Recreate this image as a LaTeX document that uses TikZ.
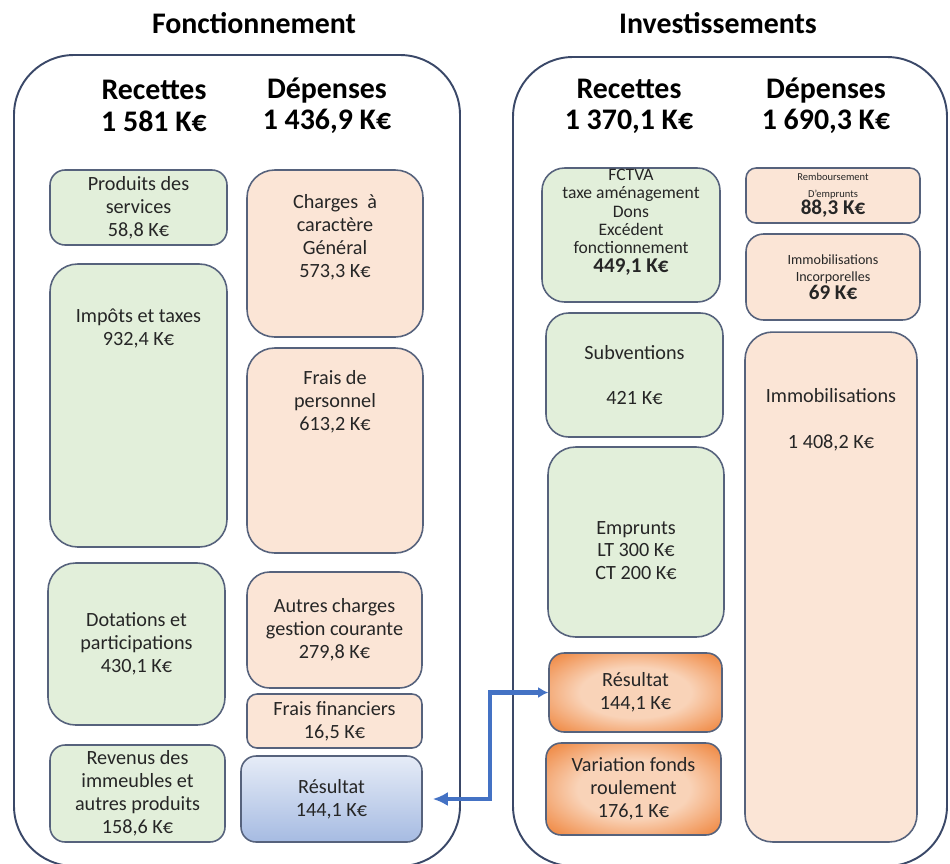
\documentclass[tikz,border=0pt]{standalone}
\usepackage{fontspec}
\setmainfont{Carlito}
\usetikzlibrary{arrows.meta}

\definecolor{vertRec}{HTML}{E2EFDA}
\definecolor{pecheDep}{HTML}{FBE5D6}
\definecolor{bordBoite}{HTML}{56627C}
\definecolor{bordCadre}{HTML}{3A4868}
\definecolor{bleuLien}{HTML}{4472C4}
\definecolor{bleuHaut}{HTML}{E6ECF7}
\definecolor{bleuBas}{HTML}{A6BBE2}
\definecolor{orangeCentre}{HTML}{F9D3B8}
\definecolor{orangeBord}{HTML}{F08C48}
\definecolor{texte}{HTML}{262626}

\pgfdeclareradialshading{orangeRes}{\pgfpoint{0bp}{0bp}}{color(0bp)=(orangeCentre); color(16bp)=(orangeCentre); color(33bp)=(orangeBord); color(50bp)=(orangeBord)}

\begin{document}
\begin{tikzpicture}[x=0.02cm, y=-0.02cm,
  cadre/.style={draw=bordCadre, line width=1.1pt, rounded corners=1.2cm},
  boite/.style={draw=bordBoite, line width=0.9pt, rounded corners=0.3cm, inner sep=0pt,
    align=center, text=texte, font=\fontsize{11.5}{13}\selectfont},
  recette/.style={boite, fill=vertRec},
  depense/.style={boite, fill=pecheDep},
  resbleu/.style={boite, top color=bleuHaut, bottom color=bleuBas},
  resorange/.style={boite, shading=orangeRes},
  txt/.style={align=center, text=texte, font=\fontsize{11.5}{13}\selectfont},
  titre/.style={align=center, text=black, font=\fontsize{17}{17.8}\selectfont\bfseries},
  lien/.style={draw=bleuLien, line width=2.3pt,
    {Latex[length=0.2cm,width=0.22cm]}-{Latex[length=0.3cm,width=0.28cm]}}
]
\useasboundingbox (0,0) rectangle (950,863);

% les deux cadres
\draw[cadre] (14,55) rectangle (460,866);
\draw[cadre] (513,57) rectangle (947,866);

\node[titre, anchor=base] (titreFonct) at (254,33) {Fonctionnement};
\node[titre, anchor=base] (titreInvest) at (718,33) {Investissements};

\node[titre] (recFonct) at (154,106) {Recettes\\1 581 K€};
\node[titre] (depFonct) at (327,106) {Dépenses\\1 436,9 K€};
\node[titre] (recInvest) at (629,106) {Recettes\\1 370,1 K€};
\node[titre] (depInvest) at (826,106) {Dépenses\\1 690,3 K€};

% Fonctionnement - recettes
\node[recette, minimum width=3.54cm, minimum height=1.5cm] (produits) at (138.5,207.5) {Produits des\\services\\58,8 K€};
\node[recette, minimum width=3.54cm, minimum height=5.66cm, rounded corners=0.55cm] (impots) at (138.5,405.5) {};
\node[txt] (impotsTxt) at (138.5,328.5) {Impôts et taxes\\932,4 K€};
\node[recette, minimum width=3.54cm, minimum height=3.24cm, rounded corners=0.55cm] (dotations) at (136.5,644) {Dotations et\\participations\\430,1 K€};
\node[recette, minimum width=3.5cm, minimum height=1.94cm] (revenus) at (137.5,793.5) {Revenus des\\immeubles et\\autres produits\\158,6 K€};

% Fonctionnement - dépenses
\node[depense, minimum width=3.52cm, minimum height=3.34cm, rounded corners=0.55cm] (charges) at (335,253.5) {};
\node[txt] (chargesTxt) at (335,237.5) {Charges \ à\\caractère\\Général\\573,3 K€};
\node[depense, minimum width=3.52cm, minimum height=4.1cm, rounded corners=0.55cm] (personnel) at (335,450.5) {};
\node[txt] (personnelTxt) at (335,401.5) {Frais de\\personnel\\613,2 K€};
\node[depense, minimum width=3.5cm, minimum height=2.32cm, rounded corners=0.45cm] (autres) at (334.5,630) {Autres charges\\gestion courante\\279,8 K€};
\node[depense, minimum width=3.5cm, minimum height=1.08cm, rounded corners=0.2cm] (financiers) at (334.5,721) {Frais financiers\\16,5 K€};
\node[resbleu, minimum width=3.62cm, minimum height=1.72cm] (resultatF) at (331.5,799) {Résultat\\144,1 K€};

% Investissements - recettes
\node[recette, minimum width=3.56cm, minimum height=2.68cm, rounded corners=0.45cm] (fctva) at (631,235) {};
\node[txt, font=\fontsize{10}{10.5}\selectfont] (fctvaTxt) at (631,222) {FCTVA\\taxe aménagement\\Dons\\Excédent\\fonctionnement\\{\fontsize{12}{10.5}\selectfont\bfseries 449,1 K€}};
\node[recette, minimum width=3.54cm, minimum height=2.48cm, rounded corners=0.45cm] (subventions) at (634.5,375) {Subventions\\[13pt]421 K€};
\node[recette, minimum width=3.52cm, minimum height=3.8cm, rounded corners=0.55cm] (emprunts) at (636,542) {};
\node[txt] (empruntsTxt) at (636,550.5) {Emprunts\\LT 300 K€\\CT 200 K€};
\node[resorange, minimum width=3.46cm, minimum height=1.58cm] (resultatI) at (635.5,692.5) {Résultat\\144,1 K€};
\node[resorange, minimum width=3.5cm, minimum height=1.84cm] (variation) at (633.5,789) {Variation fonds\\roulement\\176,1 K€};

% Investissements - dépenses
\node[depense, minimum width=3.48cm, minimum height=1.1cm, rounded corners=0.2cm, font=\fontsize{6}{9.6}\selectfont] (remboursement) at (833,195.5) {Remboursement\\D'emprunts\\{\fontsize{12}{9.6}\selectfont\bfseries 88,3 K€}};
\node[depense, minimum width=3.48cm, minimum height=1.72cm, rounded corners=0.35cm, font=\fontsize{8}{10}\selectfont] (incorporelles) at (833,277) {Immobilisations\\Incorporelles\\{\fontsize{12}{10}\selectfont\bfseries 69 K€}};
\node[depense, minimum width=3.44cm, minimum height=10.2cm, rounded corners=0.55cm] (immobilisations) at (831,587) {};
\node[txt] (immobilisationsTxt) at (831,419.5) {Immobilisations\\[13pt]1 408,2 K€};

% lien entre les deux résultats
\coordinate (coude) at (490,799);
\draw[lien] (resultatI.west) -| (coude) -- ([xshift=0.2cm]resultatF.east);

\end{tikzpicture}
\end{document}
